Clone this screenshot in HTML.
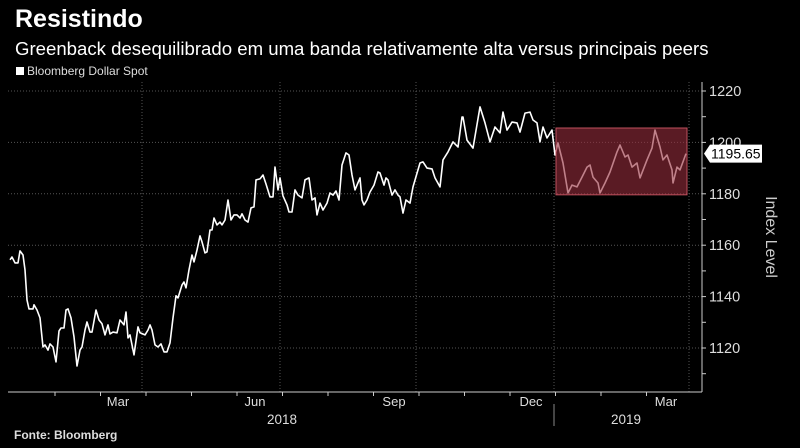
<!DOCTYPE html>
<html><head><meta charset="utf-8"><style>
html,body{margin:0;padding:0;background:#000;}
body{width:800px;height:448px;overflow:hidden;font-family:"Liberation Sans",sans-serif;color:#fff;position:relative}
.t{position:absolute;white-space:nowrap}
</style></head><body>
<div class="t" style="left:15px;top:5px;font-size:25px;font-weight:bold">Resistindo</div>
<div class="t" style="left:15px;top:38px;font-size:18.6px">Greenback desequilibrado em uma banda relativamente alta versus principais peers</div>
<div class="t" style="left:16px;top:64px;font-size:12px;color:#ddd"><span style="display:inline-block;width:8px;height:8px;background:#fff;margin-right:3px"></span>Bloomberg Dollar Spot</div>
<div class="t" style="left:14px;top:428px;font-size:12px;font-weight:bold;color:#ddd">Fonte: Bloomberg</div>
<svg id="chart" width="800" height="448" style="position:absolute;left:0;top:0"></svg>
<script>
const days=[0,2,5,8,10,13,15,17,19,23,24,27,30,33,35,38,40,43,46,49,51,54,56,58,61,64,67,70,72,75,77,80,82,86,89,92,95,98,100,103,107,110,114,116,118,120,124,128,130,135,138,140,142,145,148,151,154,157,160,163,166,168,172,174,176,179,182,184,187,190,192,195,197,200,202,204,207,210,212,215,218,221,224,227,230,232,235,238,241,244,246,250,253,256,260,263,265,268,270,273,277,279,282,285,288,292,295,299,302,305,307,310,313,317,320,323,326,329,332,336,339,342,345,347,350,352,354,357,360,364,368,370,374,376,378,382,385,388,390,393,396,400,403,410,413,417,422,425,430,433,438,443,448,452,453,457,463,470,475,480,485,490,493,497,502,507,510,515,520,523,527,530,533,537,542,545,548,553,558,562,567,572,577,580,583,588,590,595,600,607,610,615,618,622,627,630,637,642,645,650,653,657,662,663,667,670,676];
const values=[1154.3,1155.4,1153.1,1153.1,1157.8,1156.2,1150.4,1138.7,1135.2,1135.2,1136.8,1134.8,1131.7,1120.4,1121.2,1119.2,1121.6,1120.4,1114.6,1126.6,1127.8,1127.8,1134.8,1135.2,1131.7,1124.3,1113.0,1119.2,1120.4,1127.0,1130.1,1126.2,1126.2,1134.8,1130.9,1129.4,1125.1,1129.0,1125.5,1126.2,1125.9,1130.9,1129.0,1134.0,1123.9,1125.1,1117.3,1128.2,1125.9,1125.1,1127.0,1129.0,1127.0,1121.2,1120.4,1121.6,1118.5,1118.5,1122.0,1131.7,1140.3,1139.5,1144.5,1145.7,1143.4,1150.4,1156.2,1153.5,1158.1,1163.6,1161.3,1157.0,1157.4,1165.9,1165.9,1170.6,1167.9,1169.0,1167.9,1169.8,1177.6,1169.8,1171.8,1171.8,1170.6,1172.2,1169.8,1169.0,1174.5,1174.9,1185.4,1185.8,1187.3,1183.8,1178.8,1178.8,1190.4,1181.5,1186.2,1179.2,1175.7,1172.9,1172.9,1181.5,1179.5,1178.4,1185.4,1186.2,1177.6,1178.4,1171.8,1176.4,1173.7,1176.4,1180.3,1179.5,1181.1,1177.6,1191.2,1195.9,1195.1,1187.3,1181.5,1183.4,1186.2,1177.6,1175.7,1177.6,1180.7,1183.4,1188.5,1188.1,1183.4,1186.2,1185.4,1179.5,1181.5,1179.5,1178.8,1172.5,1177.6,1176.4,1182.7,1192.0,1192.4,1190.0,1189.7,1186.2,1182.7,1193.2,1196.3,1200.2,1198.2,1209.9,1209.9,1200.9,1197.8,1213.8,1207.6,1200.2,1206.0,1203.7,1211.8,1204.8,1207.9,1207.6,1204.0,1211.4,1211.8,1208.7,1207.6,1200.2,1206.0,1201.7,1204.8,1195.1,1199.8,1192.0,1180.3,1183.4,1182.7,1186.5,1190.4,1191.2,1186.5,1184.2,1180.3,1184.2,1188.5,1196.3,1199.0,1194.3,1195.1,1190.4,1192.0,1186.2,1193.2,1197.8,1204.8,1198.2,1193.2,1195.1,1189.3,1184.2,1190.4,1189.3,1195.65];
const yTicks=[1120,1140,1160,1180,1200,1220];
const monthLabels=["Mar","Jun","Sep","Dec","Mar"];
const monthDays=[108,245,384,521,656];
const gridDays=[132,270,406,544,679];
const yearLabels=["2018","2019"];
const yearDays=[272,616];
const band=[1179.6,1205.6];
const bandDays=[546,677];
const lastValue="1195.65";

const NS="http://www.w3.org/2000/svg";
const svg=document.getElementById('chart');
const X=d=>10+d;
const Y=v=>91+(1220-v)*2.57;
function mk(tag,attrs,parent){const e=document.createElementNS(NS,tag);for(const k in attrs)e.setAttribute(k,attrs[k]);(parent||svg).appendChild(e);return e;}

yTicks.forEach(v=>{
  const g=mk('line',{x1:8,x2:702,y1:Y(v),y2:Y(v),stroke:'#555','stroke-dasharray':'1,2','stroke-width':1});
  
  
  const tk=mk('line',{x1:702,x2:706,y1:Y(v),y2:Y(v),stroke:'#ccc'});
  
  
  const m=mk('line',{x1:702,x2:706,y1:Y(v-10),y2:Y(v-10),stroke:'#ccc'});
  
  
  const t=mk('text',{x:709,y:Y(v)+5,fill:'#ddd','font-size':14.5,'font-family':'Liberation Sans, sans-serif'});
  t.textContent=v;
  
  
});
gridDays.forEach(d=>{
  const g=mk('line',{x1:X(d),x2:X(d),y1:82,y2:392,stroke:'#555','stroke-dasharray':'1,2'});
  
  
});
for(let d=45;d<680;d+=45.5){
  const tk=mk('line',{x1:X(d),x2:X(d),y1:392,y2:396,stroke:'#ccc'});
  
  
}
const ax=mk('line',{x1:702,x2:702,y1:82,y2:392,stroke:'#ccc'});


const bx=mk('line',{x1:8,x2:702,y1:392,y2:392,stroke:'#ccc'});


monthLabels.forEach((m,i)=>{
  const t=mk('text',{x:X(monthDays[i]),y:406,fill:'#ddd','font-size':13,'text-anchor':'middle','font-family':'Liberation Sans, sans-serif'});
  t.textContent=m;
  
  
});
yearLabels.forEach((m,i)=>{
  const t=mk('text',{x:X(yearDays[i]),y:424,fill:'#ddd','font-size':13.5,'text-anchor':'middle','font-family':'Liberation Sans, sans-serif'});
  t.textContent=m;
  
  
});
const dv=mk('line',{x1:554,x2:554,y1:404,y2:426,stroke:'#888'});



const pts=days.map((d,i)=>X(d).toFixed(1)+','+Y(values[i]).toFixed(1)).join(' ');
const line=mk('polyline',{points:pts,fill:'none',stroke:'#fff','stroke-width':1.6,'stroke-linejoin':'round'});



const r=mk('rect',{x:X(bandDays[0]),y:Y(band[1]),width:X(bandDays[1])-X(bandDays[0]),height:Y(band[0])-Y(band[1]),fill:'rgb(150,45,60)','fill-opacity':0.6,stroke:'#c0505e','stroke-width':1});



const ly=Y(parseFloat(lastValue));
const lb=mk('path',{d:`M704 ${ly} L710 ${ly-9} L762 ${ly-9} L762 ${ly+9} L710 ${ly+9} Z`,fill:'#fff'});


const lt=mk('text',{x:711,y:ly+5,fill:'#000','font-size':14,'font-family':'Liberation Sans, sans-serif'});
lt.textContent=lastValue;



const at=mk('text',{x:0,y:0,fill:'#ccc','font-size':16,'text-anchor':'middle',transform:'translate(766,237) rotate(90)','font-family':'Liberation Sans, sans-serif'});
at.textContent='Index Level';


</script>
</body></html>
